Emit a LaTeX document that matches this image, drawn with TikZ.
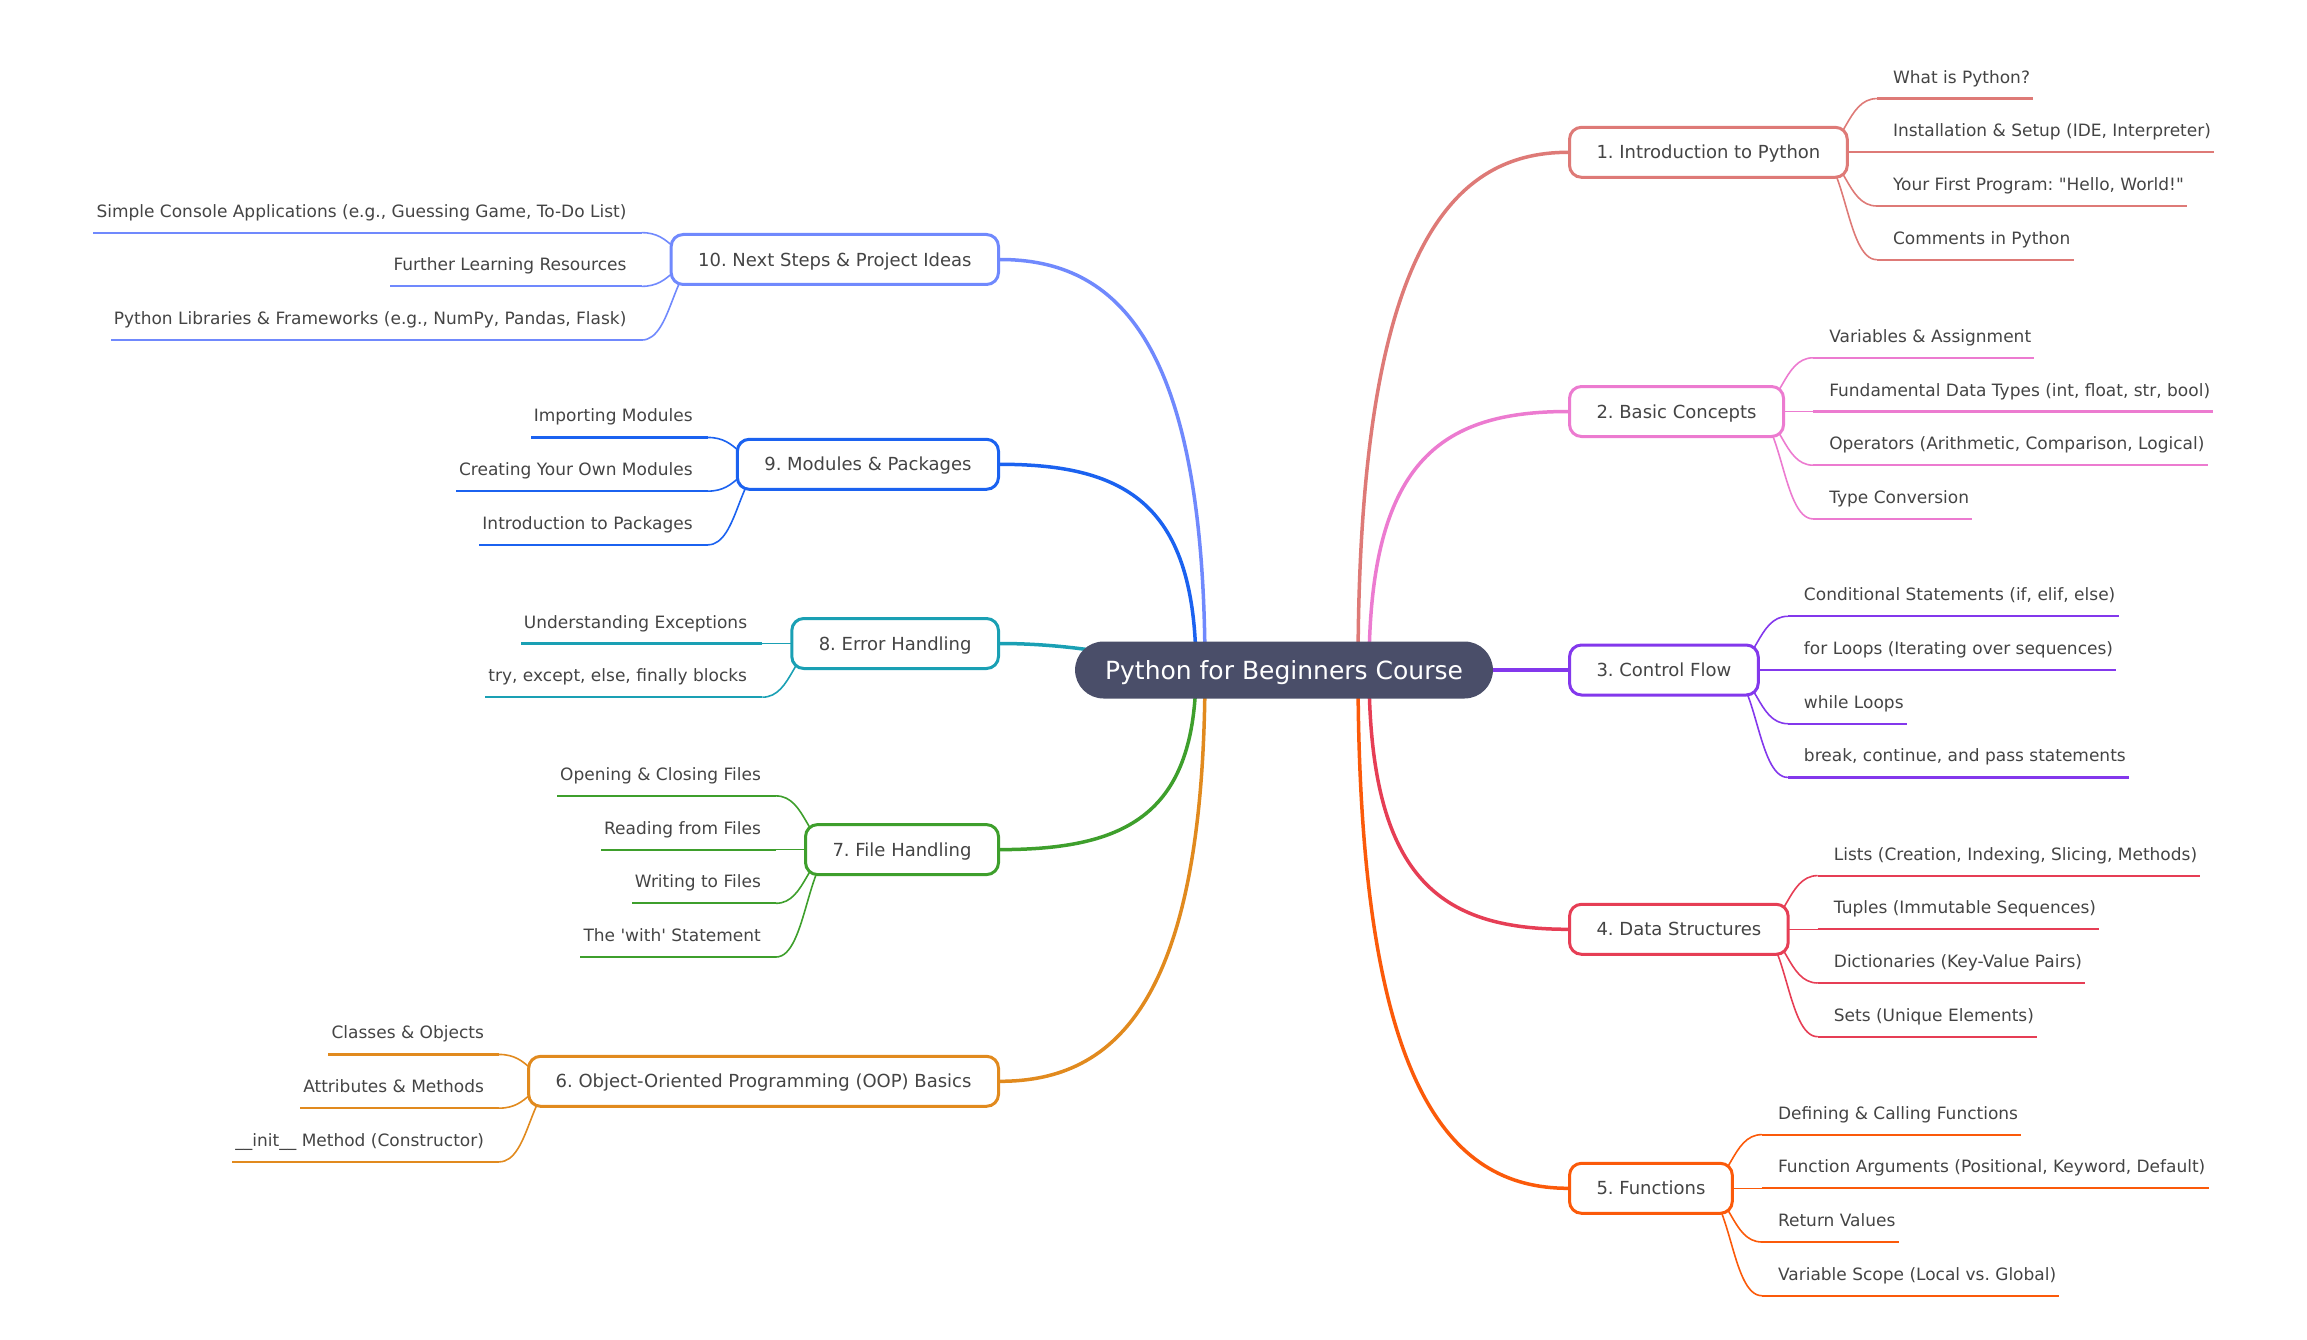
\documentclass[tikz,border=0pt]{standalone}
\usepackage{fontspec}
\setmainfont{DejaVu Sans}
\usetikzlibrary{calc}
\pgfdeclarelayer{bg}
\pgfsetlayers{bg,main}
\frenchspacing
\definecolor{cbg}{HTML}{4A4E69}
\definecolor{txt}{HTML}{444444}
\definecolor{ca}{HTML}{DE7A77}
\definecolor{cb}{HTML}{EC7BD0}
\definecolor{cc}{HTML}{8338EC}
\definecolor{cd}{HTML}{E63E55}
\definecolor{ce}{HTML}{FB5A0A}
\definecolor{cf}{HTML}{E18A1E}
\definecolor{cg}{HTML}{3E9F2C}
\definecolor{ch}{HTML}{1AA0B4}
\definecolor{ci}{HTML}{1B62F0}
\definecolor{cj}{HTML}{7089FD}
\tikzset{
  branch/.style={draw=#1, fill=white, line width=3pt, rounded corners=12pt,
    minimum height=50pt, inner xsep=27pt, inner ysep=0pt,
    text height=13.1pt, text depth=0pt, text=txt,
    font=\fontsize{18pt}{22pt}\selectfont},
  leaftext/.style={inner xsep=3pt, inner ysep=0pt, text=txt,
    font=\fontsize{17pt}{20pt}\selectfont},
  mainlink/.style={draw=#1, line width=3.5pt},
  leafcurve/.style={draw=#1, line width=1.6pt},
  uline/.style={draw=#1, line width=2.2pt},
}
% right-side branch helper coordinates
\newcommand\RBr[1]{%
  \coordinate (#1o) at ([xshift=-34pt]#1.east);
  \coordinate (#1m) at ([xshift=-3pt]#1.east);
  \coordinate (#1e) at ([xshift=28pt]#1.east);
  \coordinate (#1t) at ([xshift=41pt]#1.east);}
\newcommand\LBr[1]{%
  \coordinate (#1o) at ([xshift=34pt]#1.west);
  \coordinate (#1m) at ([xshift=3pt]#1.west);
  \coordinate (#1e) at ([xshift=-28pt]#1.west);
  \coordinate (#1t) at ([xshift=-40pt]#1.west);}
% #1 branch, #2 colour, #3 leaf name, #4 line y, #5 text
\newcommand\RLeaf[5]{%
  \node[leaftext, anchor=base west] (#3) at (#1t |- 0,#4-15.5) {#5};
  \begin{pgfonlayer}{bg}
  \draw[leafcurve=#2] (#1o) .. controls (#1m) and (#1m |- 0,#4) .. (#1e |- 0,#4);
  \draw[uline=#2] (#1e |- 0,#4) -- (#3.east |- 0,#4);
  \end{pgfonlayer}}
\newcommand\LLeaf[5]{%
  \node[leaftext, anchor=base east] (#3) at (#1t |- 0,#4-15.5) {#5};
  \begin{pgfonlayer}{bg}
  \draw[leafcurve=#2] (#1o) .. controls (#1m) and (#1m |- 0,#4) .. (#1e |- 0,#4);
  \draw[uline=#2] (#1e |- 0,#4) -- (#3.west |- 0,#4);
  \end{pgfonlayer}}
\begin{document}
\begin{tikzpicture}[x=1pt, y=-1pt]
\useasboundingbox (0,0) rectangle (2307,1340);

% centre
\node[fill=cbg, rounded corners=28.5pt, minimum height=57pt, inner xsep=30pt,
  inner ysep=0pt, text=white, font=\fontsize{25pt}{30pt}\selectfont,
  text height=18.2pt, text depth=0pt] (c) at (1284,670) {Python for Beginners Course};

% branches right
\node[branch=ca, anchor=west] (b1) at (1568,152.3) {1. Introduction to Python};
\node[branch=cb, anchor=west] (b2) at (1568,411.5) {2. Basic Concepts};
\node[branch=cc, anchor=west] (b3) at (1568,670) {3. Control Flow};
\node[branch=cd, anchor=west] (b4) at (1568,929.3) {4. Data Structures};
\node[branch=ce, anchor=west] (b5) at (1568,1188.3) {5. Functions};
% branches left
\node[branch=cj, anchor=east] (b10) at (1000,259.5) {10. Next Steps \& Project Ideas};
\node[branch=ci, anchor=east] (b9) at (1000,464.3) {9. Modules \& Packages};
\node[branch=ch, anchor=east] (b8) at (1000,643.5) {8. Error Handling};
\node[branch=cg, anchor=east] (b7) at (1000,849.6) {7. File Handling};
\node[branch=cf, anchor=east] (b6) at (1000,1081.3) {6. Object-Oriented Programming (OOP) Basics};

\RBr{b1}\RBr{b2}\RBr{b3}\RBr{b4}\RBr{b5}
\LBr{b6}\LBr{b7}\LBr{b8}\LBr{b9}\LBr{b10}

% main connectors
\coordinate (s1) at ([xshift=74pt]c.center);
\coordinate (s2) at ([xshift=85pt]c.center);
\coordinate (s4) at ([xshift=85pt]c.center);
\coordinate (s5) at ([xshift=74pt]c.center);
\coordinate (s10) at ([xshift=-79pt]c.center);
\coordinate (s9) at ([xshift=-88pt]c.center);
\coordinate (s8) at ([xshift=-88pt]c.center);
\coordinate (s7) at ([xshift=-88pt]c.center);
\coordinate (s6) at ([xshift=-79pt]c.center);
\begin{pgfonlayer}{bg}
\draw[mainlink=ca] (s1) .. controls (1358,255.8) and (1448,152.3) .. (b1.west);
\draw[mainlink=cb] (s2) .. controls (1369,463.2) and (1438.7,411.5) .. (b2.west);
\draw[mainlink=cc] (c.east) -- (b3.west);
\draw[mainlink=cd] (s4) .. controls (1369,877.4) and (1438.7,929.3) .. (b4.west);
\draw[mainlink=ce] (s5) .. controls (1358,1084.6) and (1448,1188.3) .. (b5.west);
\draw[mainlink=cj] (s10) .. controls (1205,341.6) and (1116.9,259.5) .. (b10.east);
\draw[mainlink=ci] (s9) .. controls (1196,505.4) and (1127.4,464.3) .. (b9.east);
\draw[mainlink=ch] (s8) .. controls (1150,660) and (1080,643.5) .. (b8.east);
\draw[mainlink=cg] (s7) .. controls (1196,813.7) and (1127.4,849.6) .. (b7.east);
\draw[mainlink=cf] (s6) .. controls (1205,999) and (1116.9,1081.3) .. (b6.east);
\end{pgfonlayer}

% leaves right
\RLeaf{b1}{ca}{l11}{98.6}{What is Python?}
\RLeaf{b1}{ca}{l12}{152.3}{Installation \& Setup (IDE, Interpreter)}
\RLeaf{b1}{ca}{l13}{206}{Your First Program: \textquotedbl Hello, World!\textquotedbl}
\RLeaf{b1}{ca}{l14}{259.7}{Comments in Python}

\RLeaf{b2}{cb}{l21}{357.8}{Variables \& Assignment}
\RLeaf{b2}{cb}{l22}{411.5}{Fundamental Data Types (int, float, str, bool)}
\RLeaf{b2}{cb}{l23}{465.2}{Operators (Arithmetic, Comparison, Logical)}
\RLeaf{b2}{cb}{l24}{518.9}{Type Conversion}

\RLeaf{b3}{cc}{l31}{616.3}{Conditional Statements (if, elif, else)}
\RLeaf{b3}{cc}{l32}{670}{for Loops (Iterating over sequences)}
\RLeaf{b3}{cc}{l33}{723.7}{while Loops}
\RLeaf{b3}{cc}{l34}{777.4}{break, continue, and pass statements}

\RLeaf{b4}{cd}{l41}{875.6}{Lists (Creation, Indexing, Slicing, Methods)}
\RLeaf{b4}{cd}{l42}{929.3}{Tuples (Immutable Sequences)}
\RLeaf{b4}{cd}{l43}{983}{Dictionaries (Key-Value Pairs)}
\RLeaf{b4}{cd}{l44}{1036.7}{Sets (Unique Elements)}

\RLeaf{b5}{ce}{l51}{1134.6}{Defining \& Calling Functions}
\RLeaf{b5}{ce}{l52}{1188.3}{Function Arguments (Positional, Keyword, Default)}
\RLeaf{b5}{ce}{l53}{1242}{Return Values}
\RLeaf{b5}{ce}{l54}{1295.7}{Variable Scope (Local vs. Global)}

% leaves left
\LLeaf{b10}{cj}{l101}{232.65}{Simple Console Applications (e.g., Guessing Game, To-Do List)}
\LLeaf{b10}{cj}{l102}{286.35}{Further Learning Resources}
\LLeaf{b10}{cj}{l103}{340.05}{Python Libraries \& Frameworks (e.g., NumPy, Pandas, Flask)}

\LLeaf{b9}{ci}{l91}{437.45}{Importing Modules}
\LLeaf{b9}{ci}{l92}{491.15}{Creating Your Own Modules}
\LLeaf{b9}{ci}{l93}{544.85}{Introduction to Packages}

\LLeaf{b8}{ch}{l81}{643.5}{Understanding Exceptions}
\LLeaf{b8}{ch}{l82}{697.2}{try, except, else, finally blocks}

\LLeaf{b7}{cg}{l71}{795.9}{Opening \& Closing Files}
\LLeaf{b7}{cg}{l72}{849.6}{Reading from Files}
\LLeaf{b7}{cg}{l73}{903.3}{Writing to Files}
\LLeaf{b7}{cg}{l74}{957}{The \textquotesingle with\textquotesingle{} Statement}

\LLeaf{b6}{cf}{l61}{1054.45}{Classes \& Objects}
\LLeaf{b6}{cf}{l62}{1108.15}{Attributes \& Methods}
\LLeaf{b6}{cf}{l63}{1161.85}{\_\_init\_\_ Method (Constructor)}
\end{tikzpicture}
\end{document}
